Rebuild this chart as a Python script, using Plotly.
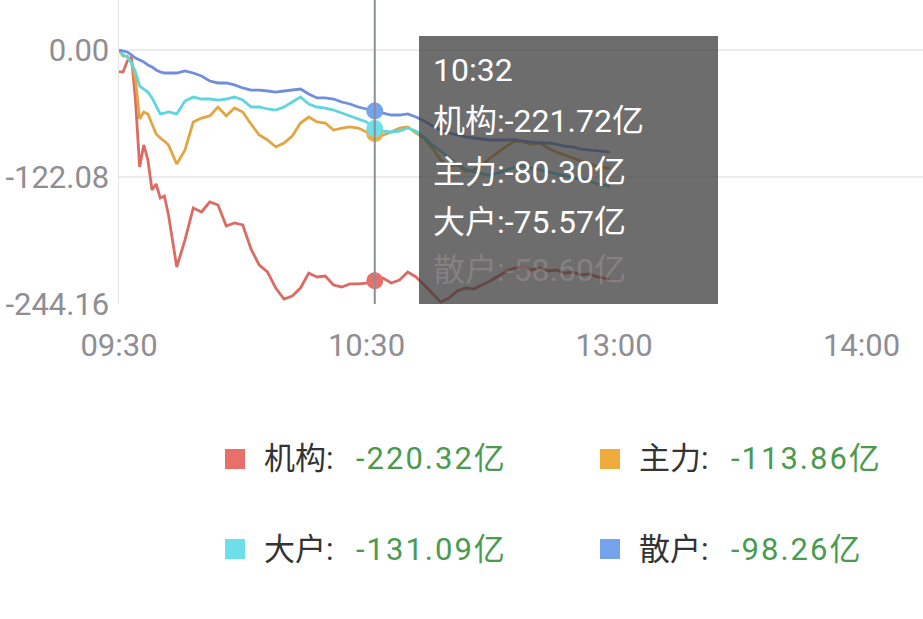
import plotly.graph_objects as go

# ---------------- data ----------------
minutes = list(range(0, 13)) + list(range(14, 119, 2)) + [119]   # minutes after 09:30

jigou = [-21.1, -21.1, -10.6, -6.7, -48.1, -112.5, -91.3, -105.7, -134.6, -128.8, -142.3, -140.3, -158.6,
         -208.6, -182.6, -151.9, -155.7, -146.1, -149.0, -169.2, -166.3, -168.2, -191.3,
         -206.7, -213.4, -228.8, -239.4, -236.5, -228.8, -214.4, -218.2, -217.3, -225.9,
         -227.8, -224.9, -224.9, -224.0, -221.72, -219.2, -224.0, -221.1, -213.4, -218.2,
         -225.9, -233.6, -242.2, -238.4, -231.7, -228.8, -229.8, -225.9, -222.1, -217.3,
         -212.4, -209.6, -208.6, -211.5, -209.6, -212.4, -211.5, -214.4, -213.4, -216.3,
         -215.3, -218.2, -220.1, -220.32]

zhuli = [0.0, -5.8, -5.8, -11.5, -28.8, -66.3, -59.6, -61.5, -71.1, -80.7, -84.6, -87.5, -91.3,
         -109.6, -96.1, -69.2, -65.4, -63.4, -54.8, -63.4, -55.8, -59.6, -71.1,
         -81.7, -86.5, -93.2, -89.4, -82.7, -70.2, -64.4, -69.2, -70.2, -76.9,
         -75.0, -74.0, -75.0, -78.8, -80.30, -81.7, -78.8, -75.0, -74.0, -79.8,
         -84.6, -94.2, -105.7, -111.5, -110.5, -116.3, -115.4, -110.5, -103.8, -98.1,
         -92.3, -87.5, -88.4, -90.4, -89.4, -94.2, -98.1, -100.9, -103.8, -106.7,
         -108.6, -112.5, -113.4, -113.86]

dahu = [0.0, -4.8, -6.7, -12.5, -21.1, -34.6, -37.5, -40.4, -46.1, -53.8, -61.5, -60.6, -59.6,
        -61.5, -49.0, -45.2, -47.1, -47.1, -48.1, -47.1, -45.2, -48.1, -54.8,
        -54.8, -56.7, -57.7, -54.8, -50.0, -45.2, -51.9, -54.8, -55.8, -57.7,
        -60.6, -63.4, -66.3, -69.2, -75.57, -77.9, -78.8, -77.9, -75.0, -77.9,
        -83.6, -91.3, -97.1, -103.8, -109.6, -114.4, -117.3, -119.2, -120.2, -118.2,
        -115.4, -112.5, -111.5, -113.4, -115.4, -117.3, -119.2, -121.1, -123.0, -124.0,
        -125.9, -128.8, -130.7, -131.09]

sanhu = [0.0, -1.0, -1.9, -4.8, -7.7, -9.6, -11.5, -14.4, -16.3, -19.2, -21.1, -22.1, -22.1,
         -22.1, -20.2, -22.1, -25.0, -29.8, -31.7, -31.7, -33.6, -36.5, -38.5,
         -38.5, -39.4, -40.4, -39.4, -38.5, -37.5, -42.3, -46.1, -46.1, -47.1,
         -50.0, -51.9, -54.8, -56.7, -58.6, -60.6, -62.5, -62.5, -61.5, -64.4,
         -68.3, -73.1, -76.9, -79.8, -81.7, -83.6, -84.6, -85.6, -86.5, -86.5,
         -86.5, -86.5, -87.5, -88.4, -89.4, -89.4, -90.4, -92.3, -93.2, -95.2,
         -96.1, -97.1, -98.1, -98.26]

series_names = ["机构", "主力", "大户", "散户"]
final_values = [-220.32, -113.86, -131.09, -98.26]

x_tick_vals = [0, 60, 120, 180]
x_tick_text = ["09:30", "10:30", "13:00", "14:00"]
y_tick_vals = [0.00, -122.08, -244.16]

hover_minute = 62          # cursor position (10:32)

# ---------------- styling ----------------
line_colors = ["#dc6b63", "#e3a541", "#5fd6de", "#6f8fdc"]
dot_colors = ["#e8706b", "#f0ab3d", "#6cdfea", "#75a3ee"]
FONT = "Roboto, 'Noto Sans CJK SC', sans-serif"
GRAY = "#8e8e93"

series = [jigou, zhuli, dahu, sanhu]

fig = go.Figure()
for name, vals, col in zip(series_names, series, line_colors):
    fig.add_trace(go.Scatter(x=minutes, y=vals, mode="lines", name=name,
                             line=dict(color=col, width=2.8), showlegend=False,
                             hoverinfo="skip"))

# hover dots (drawn from the data at the cursor minute)
hi = minutes.index(hover_minute)
for vals, col in zip(series, dot_colors):
    fig.add_trace(go.Scatter(x=[minutes[hi]], y=[vals[hi]], mode="markers",
                             marker=dict(color=col, size=17), showlegend=False,
                             hoverinfo="skip"))

W, H = 923, 619
L, T, B = 119, 0, 315
plot_w = W - L
plot_h = H - T - B
px_per_min = 4.125
px_per_unit = 254 / 244.16

def px_x(px):
    return (px - L) / plot_w

def px_y(py):
    return (T + plot_h - py) / plot_h

shapes = []
# cursor line
shapes.append(dict(type="line", xref="x", yref="paper", x0=hover_minute, x1=hover_minute,
                   y0=0, y1=1, line=dict(color="#8a8f9a", width=2), layer="above"))
# tooltip box
shapes.append(dict(type="rect", xref="paper", yref="paper",
                   x0=px_x(419), x1=px_x(718), y0=px_y(304), y1=px_y(36),
                   fillcolor="rgba(60,60,60,0.75)", line=dict(width=0), layer="above"))

annotations = []
h_total = 9 * 60 + 30 + hover_minute
time_label = f"{h_total // 60:02d}:{h_total % 60:02d}"
tip_lines = [time_label] + [f"{n}:{v[hi]:.2f}亿" for n, v in zip(series_names[:3], series[:3])]
tip_y = [70, 121, 172, 222]
for txt, yy in zip(tip_lines, tip_y):
    annotations.append(dict(text=txt, xref="paper", yref="paper", x=px_x(431), y=px_y(yy),
                            xanchor="left", yanchor="middle", showarrow=False,
                            font=dict(family=FONT, size=32, color="white")))
# blurred (obscured) last tooltip row
annotations.append(dict(text=f"{series_names[3]}:{sanhu[hi]:.2f}亿", xref="paper", yref="paper",
                        x=px_x(431), y=px_y(270), xanchor="left", yanchor="middle", showarrow=False,
                        font=dict(family=FONT, size=32, color="rgba(225,200,205,0.22)")))

# custom legend
leg_pos = [(225, 459), (600, 459), (225, 549), (600, 549)]
for (lx, ly), n, v, c in zip(leg_pos, series_names, final_values, dot_colors):
    shapes.append(dict(type="rect", xref="paper", yref="paper",
                       x0=px_x(lx), x1=px_x(lx + 20), y0=px_y(ly + 10), y1=px_y(ly - 10),
                       fillcolor=c, line=dict(width=0)))
    annotations.append(dict(text=f"{n}:", xref="paper", yref="paper", x=px_x(lx + 37), y=px_y(ly),
                            xanchor="left", yanchor="middle", showarrow=False,
                            font=dict(family=FONT, size=31, color="#333333")))
    annotations.append(dict(text=f"<span style='letter-spacing:2px'>{v:.2f}</span>亿",
                            xref="paper", yref="paper", x=px_x(lx + 129), y=px_y(ly),
                            xanchor="left", yanchor="middle", showarrow=False,
                            font=dict(family=FONT, size=31, color="#4a9a50")))

fig.update_layout(
    width=W, height=H,
    margin=dict(l=L, r=0, t=T, b=B),
    paper_bgcolor="white", plot_bgcolor="white",
    shapes=shapes, annotations=annotations,
    xaxis=dict(range=[0, plot_w / px_per_min], tickvals=x_tick_vals, ticktext=x_tick_text,
               showgrid=False, zeroline=False, showline=False, ticks="",
               ticklabelstandoff=20,
               tickfont=dict(family=FONT, size=31, color=GRAY)),
    yaxis=dict(range=[-244.16, -244.16 + plot_h / px_per_unit], tickvals=y_tick_vals,
               ticktext=[f"{v:.2f}" for v in y_tick_vals],
               showgrid=True, gridcolor="#ececec", gridwidth=1.5, zeroline=False,
               showline=True, linecolor="#e4e4e4", linewidth=1.5, ticks="",
               ticklabelstandoff=2,
               tickfont=dict(family=FONT, size=31, color=GRAY)),
    hovermode=False,
)

fig.write_html("out.html", config={"displayModeBar": False, "staticPlot": True},
               post_script="document.body.style.margin='0';document.body.style.overflow='hidden';")
